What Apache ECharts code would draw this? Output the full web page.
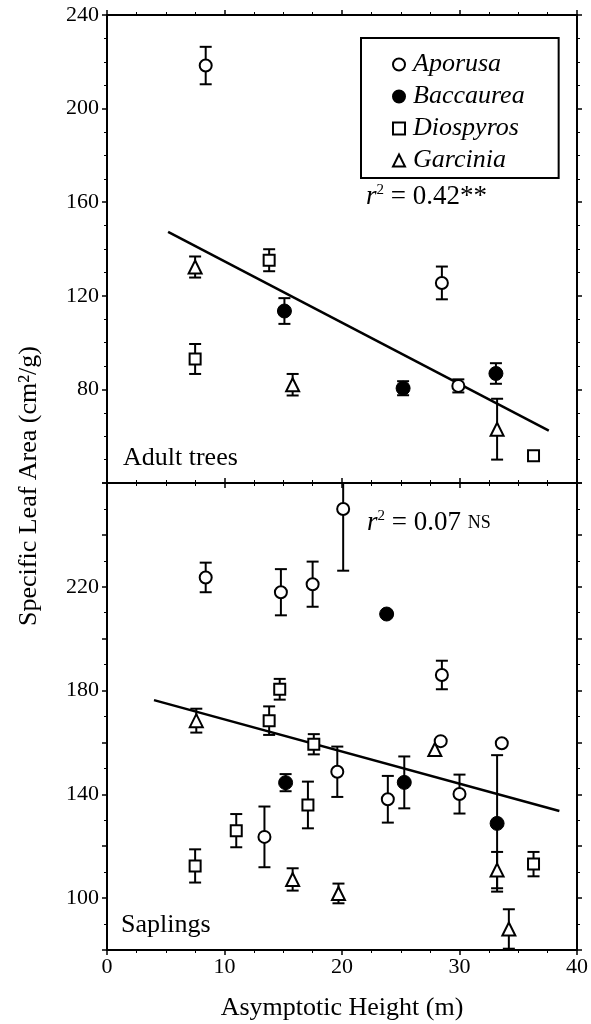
<!DOCTYPE html>
<html>
<head>
<meta charset="utf-8">
<script src="https://cdn.jsdelivr.net/npm/echarts@6/dist/echarts.min.js"></script>
<style>
html,body{margin:0;padding:0;background:#fff;}
#chart{width:591px;height:1024px;}
</style>
</head>
<body>
<div id="chart"></div>
<script>
// ---- Data: [height (m), SLA (cm2/g), error] ----
const species = ['Aporusa', 'Baccaurea', 'Diospyros', 'Garcinia'];

// Adult trees (top panel)
const adultAporusa   = [[8.4, 218.4, 8], [28.5, 125.5, 7], [29.9, 81.5, 2.8]];
const adultBaccaurea = [[15.1, 113.5, 5.5], [25.2, 80.5, 3], [33.1, 86.8, 4.4]];
const adultDiospyros = [[7.5, 93, 6.4], [13.8, 135.2, 4.7], [36.3, 51.6, 0]];
const adultGarcinia  = [[7.5, 132.3, 4.5], [15.8, 82, 4.6], [33.2, 63, 13]];
const adultFit = [[5.2, 147.3], [37.6, 62.4]];

// Saplings (bottom panel)
const sapAporusa   = [[8.4, 223.6, 5.7], [14.8, 217.9, 8.9], [17.5, 221, 8.7], [20.1, 250, 23.8],
                      [28.5, 186, 5.5], [28.4, 160.5, 0], [33.6, 159.7, 0], [19.6, 148.7, 9.7],
                      [13.4, 123.6, 11.7], [23.9, 138.1, 9], [30.0, 140.1, 7.5]];
const sapBaccaurea = [[23.8, 209.5, 0], [15.2, 144.5, 3.3], [25.3, 144.6, 10], [33.2, 128.8, 26.3]];
const sapDiospyros = [[14.7, 180.5, 4], [13.8, 168.4, 5.5], [17.6, 159.3, 3.9], [11.0, 126, 6.4],
                      [7.5, 112.4, 6.4], [17.1, 135.9, 9], [36.3, 113.1, 4.7]];
const sapGarcinia  = [[7.6, 168.4, 4.6], [27.9, 157.3, 0], [15.8, 107.2, 4.3], [19.7, 101.8, 3.8],
                      [33.2, 110.8, 7], [34.2, 88.1, 7.6]];
const sapFit = [[4.0, 176.3], [38.5, 133.6]];

const xTicks = [0, 10, 20, 30, 40];
const adultYLabels = [80, 120, 160, 200, 240];
const sapYLabels = [100, 140, 180, 220];

// ---- Styles ----
const SERIF = 'Liberation Serif';
const symbolStyles = {
  Aporusa:   {symbol: 'circle', symbolSize: 12, itemStyle: {color: '#fff', borderColor: '#000', borderWidth: 2, opacity: 1}},
  Baccaurea: {symbol: 'circle', symbolSize: 14, itemStyle: {color: '#000', borderColor: '#000', borderWidth: 1, opacity: 1}},
  Diospyros: {symbol: 'rect', symbolSize: 11, itemStyle: {color: '#fff', borderColor: '#000', borderWidth: 2, opacity: 1}},
  Garcinia:  {symbol: 'triangle', symbolSize: 13, itemStyle: {color: '#fff', borderColor: '#000', borderWidth: 2, opacity: 1}}
};

function errRender(params, api) {
  const x = api.value(0), y = api.value(1), e = api.value(2);
  if (!e) return null;
  const t = api.coord([x, y + e]), b = api.coord([x, y - e]);
  const hw = 6, st = {stroke: '#000', lineWidth: 2};
  return {type: 'group', children: [
    {type: 'line', shape: {x1: t[0], y1: t[1], x2: b[0], y2: b[1]}, style: st},
    {type: 'line', shape: {x1: t[0] - hw, y1: t[1], x2: t[0] + hw, y2: t[1]}, style: st},
    {type: 'line', shape: {x1: b[0] - hw, y1: b[1], x2: b[0] + hw, y2: b[1]}, style: st}
  ]};
}

const panels = [
  {sets: [adultAporusa, adultBaccaurea, adultDiospyros, adultGarcinia], fit: adultFit},
  {sets: [sapAporusa, sapBaccaurea, sapDiospyros, sapGarcinia], fit: sapFit}
];

const series = [];
panels.forEach((p, gi) => {
  const xi = gi * 2, yi = gi * 2;
  series.push({
    type: 'custom', xAxisIndex: xi, yAxisIndex: yi, clip: true, z: 2,
    renderItem: errRender, data: [].concat(...p.sets), silent: true
  });
  series.push({
    type: 'line', xAxisIndex: xi, yAxisIndex: yi, data: p.fit, symbol: 'none', z: 3,
    lineStyle: {color: '#000', width: 2.5}, silent: true
  });
  species.forEach((name, si) => {
    series.push(Object.assign({
      name: name, type: 'scatter', xAxisIndex: xi, yAxisIndex: yi, z: 5,
      data: p.sets[si].map(d => [d[0], d[1]])
    }, JSON.parse(JSON.stringify(symbolStyles[name]))));
  });
});

const axisLine = {show: true, onZero: false, lineStyle: {color: '#000', width: 2}};
const tick = {show: true, length: 5, lineStyle: {color: '#000', width: 1.5}};
const minor = (n) => ({show: true, splitNumber: n, length: 3, lineStyle: {color: '#000', width: 1}});
const lab = {fontFamily: SERIF, fontSize: 22, color: '#000'};

function xAx(gi, pos, showLabel, name) {
  return {
    type: 'value', gridIndex: gi, position: pos, min: 0, max: 40, interval: 10,
    axisLine: axisLine, axisTick: tick, minorTick: minor(4), splitLine: {show: false},
    axisLabel: Object.assign({show: showLabel, margin: 6, formatter: v => xTicks.includes(v) ? String(v) : ''}, lab),
    name: name || '', nameLocation: 'middle', nameGap: 45,
    nameTextStyle: {fontFamily: SERIF, fontSize: 26, color: '#000'}
  };
}
function yAx(gi, pos, showLabel, min, max, interval, labels, minorN) {
  return {
    type: 'value', gridIndex: gi, position: pos, min: min, max: max, interval: interval,
    axisLine: axisLine, axisTick: tick, minorTick: minor(minorN), splitLine: {show: false},
    axisLabel: Object.assign({show: showLabel, margin: 8, showMinLabel: false,
      formatter: v => labels.includes(v) ? String(v) : ''}, lab)
  };
}

const option = {
  animation: false,
  backgroundColor: '#fff',
  grid: [
    {left: 107, top: 15, width: 470, height: 468},
    {left: 107, top: 483, width: 470, height: 467}
  ],
  xAxis: [
    xAx(0, 'bottom', false), xAx(0, 'top', false),
    xAx(1, 'bottom', true, 'Asymptotic Height (m)'), xAx(1, 'top', false)
  ],
  yAxis: [
    yAx(0, 'left', true, 40, 240, 40, adultYLabels, 4), yAx(0, 'right', false, 40, 240, 40, adultYLabels, 4),
    yAx(1, 'left', true, 80, 260, 20, sapYLabels, 2), yAx(1, 'right', false, 80, 260, 20, sapYLabels, 2)
  ],
  legend: {
    orient: 'vertical', left: 361, top: 38,
    padding: [12, 34, 3, 31], itemGap: 3, itemWidth: 12, itemHeight: 12,
    borderColor: '#000', borderWidth: 2, backgroundColor: '#fff',
    data: species,
    textStyle: {fontFamily: SERIF, fontStyle: 'italic', fontSize: 26, color: '#000', lineHeight: 29, padding: [0, 0, 0, 3]}
  },
  graphic: [
    {type: 'text', x: 29, y: 486, rotation: Math.PI / 2,
     style: {text: 'Specific Leaf Area (cm²/g)', fontFamily: SERIF, fontSize: 26, fill: '#000',
             align: 'center', verticalAlign: 'middle'}},
    {type: 'text', x: 123, y: 458,
     style: {text: 'Adult trees', fontFamily: SERIF, fontSize: 26, fill: '#000', verticalAlign: 'middle'}},
    {type: 'text', x: 121, y: 925,
     style: {text: 'Saplings', fontFamily: SERIF, fontSize: 26, fill: '#000', verticalAlign: 'middle'}},
    {type: 'text', x: 366, y: 197,
     style: {text: '{i|r}{s|2}{n| = 0.42**}', verticalAlign: 'middle',
       rich: {
         i: {fontFamily: SERIF, fontStyle: 'italic', fontSize: 27, fill: '#000'},
         s: {fontFamily: SERIF, fontSize: 15, fill: '#000', verticalAlign: 'top', padding: [0, 0, 14, 0]},
         n: {fontFamily: SERIF, fontSize: 27, fill: '#000'}
       }}},
    {type: 'text', x: 367, y: 523,
     style: {text: '{i|r}{s|2}{n| = 0.07 }{c|NS}', verticalAlign: 'middle',
       rich: {
         i: {fontFamily: SERIF, fontStyle: 'italic', fontSize: 27, fill: '#000'},
         s: {fontFamily: SERIF, fontSize: 15, fill: '#000', verticalAlign: 'top', padding: [0, 0, 14, 0]},
         n: {fontFamily: SERIF, fontSize: 27, fill: '#000'},
         c: {fontFamily: SERIF, fontSize: 18, fill: '#000'}
       }}}
  ],
  series: series
};

const chart = echarts.init(document.getElementById('chart'), null, {renderer: 'canvas'});
chart.setOption(option);
</script>
</body>
</html>
